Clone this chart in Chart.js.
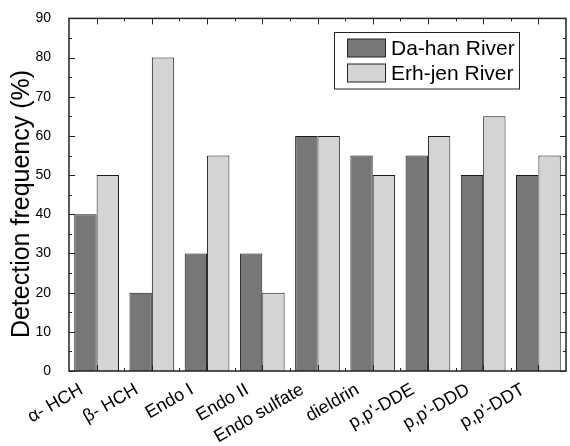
<!DOCTYPE html>
<html>
<head>
<meta charset="utf-8">
<script src="https://cdn.jsdelivr.net/npm/chart.js@4.4.1/dist/chart.umd.min.js"></script>
<style>
html,body{margin:0;padding:0;background:#fff;}
#wrap{width:570px;height:446px;position:relative;}
</style>
</head>
<body>
<div id="wrap"><canvas id="c" width="570" height="446"></canvas></div>
<script>
const categories = ['α- HCH', 'β- HCH', 'Endo I', 'Endo II', 'Endo sulfate', 'dieldrin', "p,p'-DDE", "p,p'-DDD", "p,p'-DDT"];
const dahan = [40, 20, 30, 30, 60, 55, 55, 50, 50];
const erhjen = [50, 80, 55, 20, 60, 50, 60, 65, 55];
const seriesNames = ['Da-han River', 'Erh-jen River'];
const yTicks = [0, 10, 20, 30, 40, 50, 60, 70, 80, 90];
const yTitle = 'Detection frequency (%)';
const FONT = '"Liberation Sans", Arial, Helvetica, sans-serif';

const framePlugin = {
  id: 'frame',
  afterDatasetsDraw(chart) {
    const {ctx, chartArea: a, scales: {x, y}} = chart;
    ctx.save();
    ctx.strokeStyle = '#222';
    ctx.lineWidth = 1.5;
    ctx.strokeRect(a.left, a.top, a.right - a.left, a.bottom - a.top);
    ctx.lineWidth = 1;
    ctx.beginPath();
    for (let v = 0; v <= 90; v += 5) {
      const py = Math.round(y.getPixelForValue(v)) + 0.5;
      const len = v % 10 === 0 ? 6 : 3;
      ctx.moveTo(a.left, py); ctx.lineTo(a.left + len, py);
      ctx.moveTo(a.right, py); ctx.lineTo(a.right - len, py);
    }
    const n = categories.length;
    for (let i = 0; i < n; i++) {
      const cx = Math.round(x.getPixelForValue(i)) + 0.5;
      ctx.moveTo(cx, a.top); ctx.lineTo(cx, a.top + 6);
      ctx.moveTo(cx, a.bottom); ctx.lineTo(cx, a.bottom - 6);
      if (i < n - 1) {
        const bx = Math.round((x.getPixelForValue(i) + x.getPixelForValue(i + 1)) / 2) + 0.5;
        ctx.moveTo(bx, a.top); ctx.lineTo(bx, a.top + 3);
        ctx.moveTo(bx, a.bottom); ctx.lineTo(bx, a.bottom - 3);
      }
    }
    ctx.stroke();
    ctx.restore();
  },
  afterDraw(chart) {
    const {ctx} = chart;
    ctx.save();
    ctx.fillStyle = '#000';
    ctx.font = '25px ' + FONT;
    ctx.textAlign = 'center';
    ctx.textBaseline = 'middle';
    ctx.translate(22, 204);
    ctx.rotate(-Math.PI / 2);
    ctx.fillText(yTitle, 0, 0);
    ctx.restore();
    ctx.save();
    const lx = 334.5, ly = 32.5, lw = 185, lh = 56.5;
    ctx.fillStyle = '#fff';
    ctx.fillRect(lx, ly, lw, lh);
    ctx.strokeStyle = '#222';
    ctx.lineWidth = 1;
    ctx.strokeRect(lx, ly, lw, lh);
    const ds = chart.data.datasets;
    const rows = [48, 73];
    ds.forEach((d, i) => {
      ctx.fillStyle = d.backgroundColor;
      ctx.fillRect(347.5, rows[i] - 9, 38, 18);
      ctx.strokeStyle = '#222';
      ctx.strokeRect(347.5, rows[i] - 9, 38, 18);
      ctx.fillStyle = '#000';
      ctx.font = '21px ' + FONT;
      ctx.textAlign = 'left';
      ctx.textBaseline = 'middle';
      ctx.fillText(d.label, 391, rows[i] + 1);
    });
    ctx.restore();
  }
};

new Chart(document.getElementById('c'), {
  type: 'bar',
  data: {
    labels: categories,
    datasets: [
      {label: seriesNames[0], data: dahan, backgroundColor: '#777777', borderColor: '#1a1a1a', borderWidth: 1},
      {label: seriesNames[1], data: erhjen, backgroundColor: '#d4d4d4', borderColor: '#1a1a1a', borderWidth: 1}
    ]
  },
  options: {
    responsive: false,
    animation: false,
    devicePixelRatio: 1,
    layout: {padding: {top: 16, right: 4, left: 0, bottom: 0}},
    datasets: {bar: {categoryPercentage: 0.81, barPercentage: 1.0}},
    plugins: {legend: {display: false}, tooltip: {enabled: false}, title: {display: false}},
    scales: {
      x: {
        grid: {display: false},
        border: {display: false},
        ticks: {
          autoSkip: false, maxRotation: 30, minRotation: 30, padding: 0, labelOffset: -15,
          color: '#000', font: {family: FONT, size: 18}
        },
        afterFit(s) { s.height = 75; }
      },
      y: {
        min: 0, max: 90,
        afterBuildTicks(s) { s.ticks = yTicks.map(v => ({value: v})); },
        grid: {display: false},
        border: {display: false},
        ticks: {padding: 10, color: '#000', font: {family: FONT, size: 14}},
        afterFit(s) { s.width = 69; }
      }
    }
  },
  plugins: [framePlugin]
});
</script>
</body>
</html>
